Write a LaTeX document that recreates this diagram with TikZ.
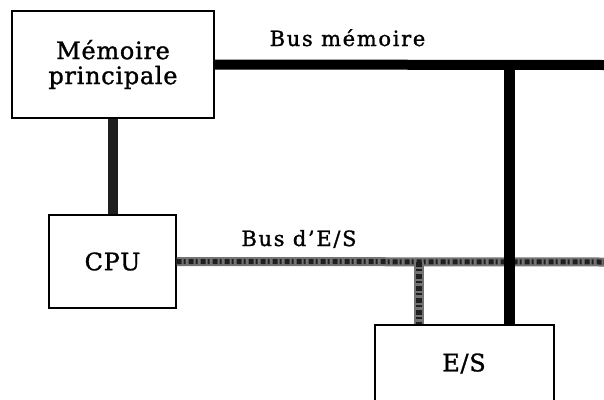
\documentclass[tikz,border=0pt]{standalone}
\usepackage{fontspec}
\setmainfont{DejaVu Serif}
\newfontfamily\boxfont[LetterSpace=3,FakeBold=1.2]{DejaVu Serif}
\newfontfamily\busfont[LetterSpace=8,FakeBold=1.2]{DejaVu Serif}
\begin{document}
\begin{tikzpicture}[x=1pt,y=-1pt,
  unit/.style={draw=black,line width=1.3pt,fill=white,inner sep=0pt,align=center,
    font=\boxfont\fontsize{24}{25}\selectfont},
  membus/.style={line width=10pt,black},
  iobus/.style={line width=9pt,black!55},
  iotex/.style={line width=5pt,black!88,dash pattern=on 5pt off 2pt on 2pt off 3pt},
  buslabel/.style={font=\busfont\fontsize{21}{22}\selectfont,inner sep=0pt}]
\useasboundingbox (0,0) rectangle (604,399);
\fill[white] (0,0) rectangle (604,399);
% nodes
\node[unit,minimum width=202pt,minimum height=107pt] (mem) at (113,64.5) {Mémoire\\principale};
\node[unit,minimum width=127pt,minimum height=93pt] (cpu) at (112.5,261.5) {CPU};
\node[unit,minimum width=179pt,minimum height=78pt,anchor=north] (es) at (464.5,325) {};
\node[font=\boxfont\fontsize{24}{25}\selectfont,inner sep=0pt] (eslabel) at (464,363.5) {E/S};
% bus end coordinates
\coordinate (memend) at (604,65);
\coordinate (ioend) at (604,262);
\coordinate (memtap) at (509,65);
\coordinate (iotap) at (418.5,262);
% memory bus
\draw[membus] (mem.east) -- (memend);
\draw[line width=11pt,black] (memtap) -- (memtap |- es.north);
% memory-CPU link
\draw[line width=10pt,black!88] (mem.south -| cpu.north) -- (cpu.north);
% I/O bus
\draw[iobus] (cpu.east) -- (ioend);
\draw[iotex] (cpu.east) -- (ioend);
\draw[iobus,line width=10pt] (iotap) -- (iotap |- es.north);
\draw[iotex,line width=6pt] (iotap) -- (iotap |- es.north);
% redraw memory drop over I/O bus
\draw[line width=11pt,black] (memtap |- ioend) ++(0,-6) -- ++(0,12);
% redraw box border on top
\draw[line width=1.3pt] (es.north west) -- (es.north east);
% labels
\node[buslabel,anchor=base] (lmem) at (347.5,46) {Bus mémoire};
\node[buslabel,anchor=base] (lio) at (299,246) {Bus d’E/S};
\end{tikzpicture}
\end{document}
